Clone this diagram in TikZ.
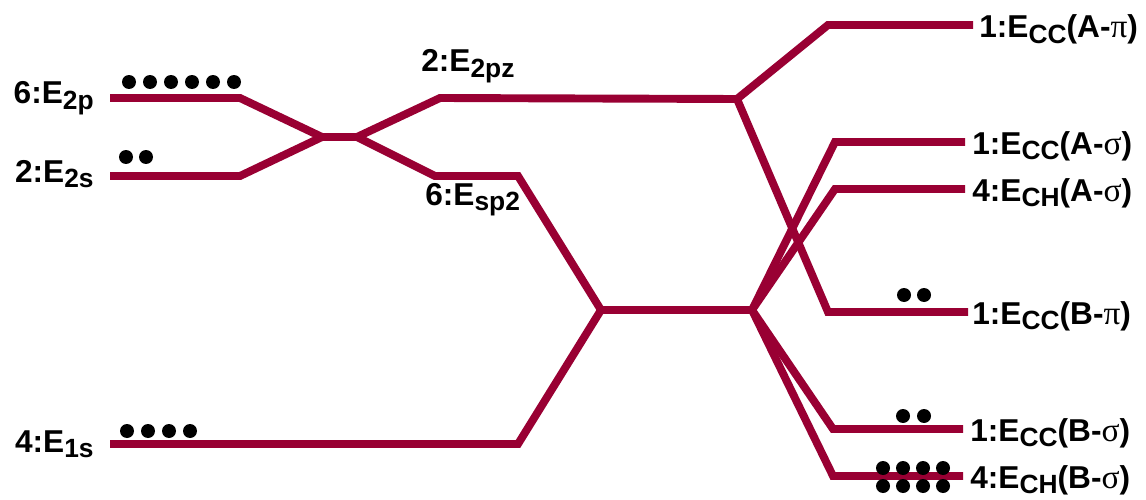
\documentclass[tikz,border=0pt]{standalone}
\usepackage{fontspec}
\setmainfont{Liberation Sans}
\newfontfamily\greekfont{Liberation Serif}
\definecolor{orbred}{RGB}{153,0,51}
\newcommand{\lvsub}[1]{\raisebox{-3.4pt}{\fontsize{15}{15}\selectfont #1}}
\newcommand{\grk}[1]{{\greekfont\mdseries\fontsize{19}{19}\selectfont #1}}
\tikzset{
  orbline/.style={draw=orbred, line width=4.5pt},
  elabel/.style={font=\fontsize{18}{18}\selectfont\bfseries, inner sep=0pt},
  electron/.style={fill=black}
}
\begin{document}
\begin{tikzpicture}[x=0.02cm, y=-0.02cm]
            \useasboundingbox (0,0) rectangle (1146,500);
            % Corners of the levels
            \coordinate (pL) at (110,98);   \coordinate (pR) at (240,98);
            \coordinate (sL) at (110,176);  \coordinate (sR) at (240,176);
            \coordinate (mixL) at (322,137); \coordinate (mixR) at (357,137);
            \coordinate (pzL) at (440,98);  \coordinate (pzR) at (737,99);
            \coordinate (spL) at (435,176); \coordinate (spR) at (518,176);
            \coordinate (oneL) at (110,444); \coordinate (oneR) at (518,444);
            \coordinate (sigL) at (601,310); \coordinate (sigR) at (752,310);
            \coordinate (apiL) at (828,25);  \coordinate (apiR) at (973,25);
            \coordinate (bpiL) at (828,312); \coordinate (bpiR) at (968,312);
            \coordinate (accL) at (835,142); \coordinate (accR) at (965,142);
            \coordinate (achL) at (835,189); \coordinate (achR) at (965,189);
            \coordinate (bccL) at (833,429); \coordinate (bccR) at (963,429);
            \coordinate (bchL) at (833,476); \coordinate (bchR) at (963,476);
            % Draw atomic levels and hybridization
            \draw[orbline] (pL) -- (pR) -- (mixL);
            \draw[orbline] (sL) -- (sR) -- (mixL) -- (mixR);
            \draw[orbline] (mixR) -- (pzL) -- (pzR);
            \draw[orbline] (mixR) -- (spL) -- (spR) -- (sigL);
            \draw[orbline] (oneL) -- (oneR) -- (sigL) -- (sigR);
            % Draw molecular levels
            \draw[orbline] (pzR) -- (apiL) -- (apiR);
            \draw[orbline] (pzR) -- (bpiL) -- (bpiR);
            \draw[orbline] (sigR) -- (accL) -- (accR);
            \draw[orbline] (sigR) -- (achL) -- (achR);
            \draw[orbline] (sigR) -- (bccL) -- (bccR);
            \draw[orbline] (sigR) -- (bchL) -- (bchR);
            % Add electrons
            \foreach \x in {129,150,171,192,213,234} \fill[electron] (\x,82) circle (0.14cm);
            \foreach \x in {126,146} \fill[electron] (\x,157) circle (0.14cm);
            \foreach \x in {127,148,169,190} \fill[electron] (\x,431) circle (0.14cm);
            \foreach \x in {904,924} \fill[electron] (\x,295) circle (0.14cm);
            \foreach \x in {903,924} \fill[electron] (\x,416) circle (0.14cm);
            \foreach \x in {883,903,923,943} {
              \fill[electron] (\x,468) circle (0.14cm);
              \fill[electron] (\x,486) circle (0.14cm);
            }
            % Add labels
            \node[elabel, anchor=base east] (lbP) at (94,104) {6:E\lvsub{2p}};
            \node[elabel, anchor=base east] (lbS) at (94,182) {2:E\lvsub{2s}};
            \node[elabel, anchor=base east] (lbOne) at (94,452) {4:E\lvsub{1s}};
            \node[elabel, anchor=base west] (lbPz) at (421,72) {2:E\lvsub{2pz}};
            \node[elabel, anchor=base west] (lbSp) at (425,205) {6:E\lvsub{sp2}};
            \node[elabel, anchor=base west] (lbApi) at (979,38) {1:E\lvsub{CC}(A-\grk{π})};
            \node[elabel, anchor=base west] (lbAcc) at (972,154) {1:E\lvsub{CC}(A-\grk{σ})};
            \node[elabel, anchor=base west] (lbAch) at (972,201) {4:E\lvsub{CH}(A-\grk{σ})};
            \node[elabel, anchor=base west] (lbBpi) at (972,324) {1:E\lvsub{CC}(B-\grk{π})};
            \node[elabel, anchor=base west] (lbBcc) at (970,441) {1:E\lvsub{CC}(B-\grk{σ})};
            \node[elabel, anchor=base west] (lbBch) at (970,488) {4:E\lvsub{CH}(B-\grk{σ})};
        \end{tikzpicture}
\end{document}
